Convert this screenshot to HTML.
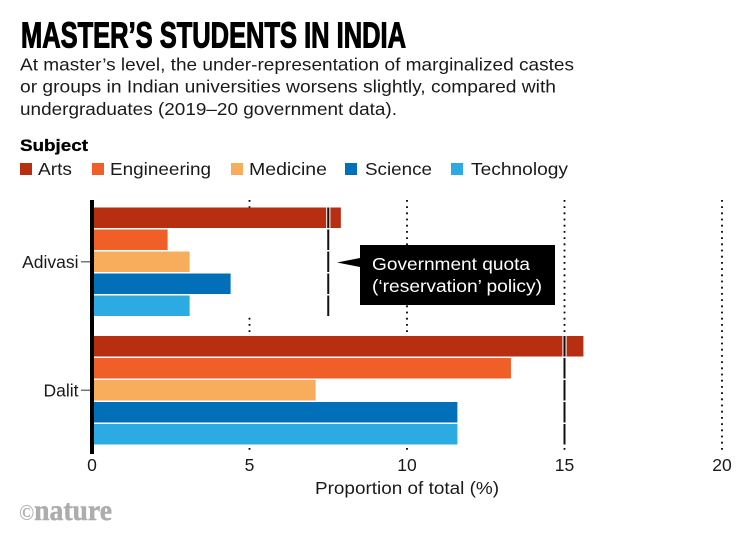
<!DOCTYPE html>
<html lang="en">
<head>
<meta charset="utf-8">
<title>Master's students in India</title>
<style>
html,body{margin:0;padding:0;background:#fff;width:751px;height:540px;overflow:hidden}
svg{display:block}
text{font-family:"Liberation Sans",sans-serif;fill:#1a1a1a}
.title{font-size:36px;font-weight:bold;fill:#000;stroke:#000;stroke-width:1.1px}
.body{font-size:17.5px}
.lab{font-size:17.5px}
</style>
</head>
<body>
<svg id="chart" xmlns="http://www.w3.org/2000/svg" width="751" height="540" viewBox="0 0 751 540">
  <text class="title" x="21" y="47.5" textLength="385" lengthAdjust="spacingAndGlyphs">MASTER’S STUDENTS IN INDIA</text>
  <text class="body" x="20" y="70.5" textLength="554" lengthAdjust="spacingAndGlyphs">At master’s level, the under-representation of marginalized castes</text>
  <text class="body" x="20" y="92.7" textLength="536" lengthAdjust="spacingAndGlyphs">or groups in Indian universities worsens slightly, compared with</text>
  <text class="body" x="20" y="115" textLength="377" lengthAdjust="spacingAndGlyphs">undergraduates (2019–20 government data).</text>
  <text x="20" y="151" font-size="17" font-weight="bold" style="fill:#000;stroke:#000;stroke-width:.3px" textLength="68" lengthAdjust="spacingAndGlyphs">Subject</text>
  <g id="legend"></g>
  <g id="grid"></g>
  <g id="bars"></g>
  <g id="quota"></g>
  <rect x="90" y="200" width="4" height="254" fill="#000"/>
  <g id="yaxis"></g>
  <g id="xaxis"></g>
  <text class="lab" x="315" y="494" textLength="184" lengthAdjust="spacingAndGlyphs">Proportion of total (%)</text>
  <g>
    <path d="M360 245H555V305H360V267L337 262.5L360 258Z" fill="#000"/>
    <text class="lab" x="372" y="270" style="fill:#fff" textLength="158" lengthAdjust="spacingAndGlyphs">Government quota</text>
    <text class="lab" x="372" y="292" style="fill:#fff" textLength="170" lengthAdjust="spacingAndGlyphs">(‘reservation’ policy)</text>
  </g>
  <text x="19" y="520" font-size="30" font-weight="bold" style="font-family:'Liberation Serif',serif;fill:#adadad;stroke:#adadad;stroke-width:.5px" textLength="93" lengthAdjust="spacingAndGlyphs"><tspan font-size="22" style="stroke-width:0">©</tspan>nature</text>
</svg>
<script>
const subjects = ['Arts', 'Engineering', 'Medicine', 'Science', 'Technology'];
const groups = ['Adivasi', 'Dalit'];
const adivasiValues = [7.9, 2.4, 3.1, 4.4, 3.1];
const dalitValues = [15.6, 13.3, 7.1, 11.6, 11.6];
const quotaValues = [7.5, 15];
const xTicks = [0, 5, 10, 15, 20];
const colors = ['#b72e10', '#ef5f27', '#f8ad5c', '#0270b8', '#2cabe3'];

const NS = 'http://www.w3.org/2000/svg';
const x = v => 92 + v * 31.5;
const groupTop = g => 207.5 + g * 128.5;
const barTop = (g, s) => groupTop(g) + s * 22;
const BAR_H = 20.5;
const groupValues = [adivasiValues, dalitValues];

function mk(parent, tag, attrs, txt) {
  const el = document.createElementNS(NS, tag);
  for (const k in attrs) el.setAttribute(k, attrs[k]);
  if (txt !== undefined) el.textContent = txt;
  parent.appendChild(el);
  return el;
}

const gridG = document.getElementById('grid');
const xaxisG = document.getElementById('xaxis');
xTicks.forEach(t => {
  if (t !== 0) {
    const line = mk(gridG, 'line', {x1: x(t), x2: x(t), y1: 200, y2: 454, stroke: '#000', 'stroke-width': 1.8, 'stroke-dasharray': '1.8 4.4'});
    
    
  }
  const label = mk(xaxisG, 'text', {x: x(t), y: 471, 'text-anchor': 'middle', 'font-size': 17.5}, String(t));
  
  
});

const barsG = document.getElementById('bars');
groupValues.forEach((vals, g) => {
  const longest = Math.max(...vals);
  const backing = mk(barsG, 'rect', {x: 94, y: barTop(g, 0), width: x(longest) - 94, height: 4 * 22 + BAR_H, fill: '#fff'});
  
  
  vals.forEach((v, s) => {
    const bar = mk(barsG, 'rect', {x: 94, y: barTop(g, s), width: x(v) - 94, height: BAR_H, fill: colors[s]});
    
    
  });
});

const quotaG = document.getElementById('quota');
quotaValues.forEach((q, g) => {
  subjects.forEach((name, s) => {
    if (x(q) < x(groupValues[g][s])) {
      const halo = mk(quotaG, 'rect', {x: x(q) - 2.2, y: barTop(g, s), width: 4.4, height: BAR_H, fill: '#fff', opacity: 0.85});
      
      
    }
    const seg = mk(quotaG, 'rect', {x: x(q) - 1, y: barTop(g, s), width: 2, height: BAR_H, fill: '#111'});
    
    
  });
});

const yaxisG = document.getElementById('yaxis');
groups.forEach((name, g) => {
  const cy = barTop(g, 2) + BAR_H / 2;
  const tick = mk(yaxisG, 'rect', {x: 81, y: cy - 0.75, width: 9, height: 1.5, fill: '#777'});
  
  
  const label = mk(yaxisG, 'text', {x: 78.5, y: cy + 6, 'font-size': 17.5, 'text-anchor': 'end'}, name);
  
  
});

const legendG = document.getElementById('legend');
const legendSwatchX = [20, 92, 231, 345, 451];
const legendLabelGap = [18, 18, 18, 20, 20];
const legendWidths = [34, 101, 78, 67, 97];
subjects.forEach((name, s) => {
  const swatch = mk(legendG, 'rect', {x: legendSwatchX[s], y: 163, width: 12, height: 12, fill: colors[s]});
  
  
  const label = mk(legendG, 'text', {x: legendSwatchX[s] + legendLabelGap[s], y: 175, 'font-size': 17.5, textLength: legendWidths[s], lengthAdjust: 'spacingAndGlyphs'}, name);
  
  
});
</script>
</body>
</html>
